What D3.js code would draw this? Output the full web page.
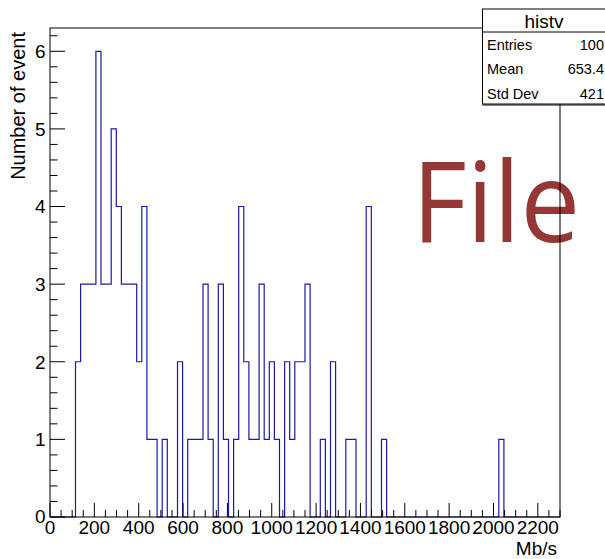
<!DOCTYPE html>
<html><head><meta charset="utf-8">
<script src="https://cdn.jsdelivr.net/npm/d3@7"></script>
<style>body{margin:0;background:#fff}svg{display:block}text{font-family:"Liberation Sans",Arial,sans-serif}</style>
</head><body>
<script>
// Histogram "histv": 100 bins from 0 to 2300 Mb/s
const histName = "histv";
const xRange = [0, 2300];
const nBins = 100;
const counts = [
 0,0,0,0,0,2,3,3,3,6, 3,3,5,4,3,3,3,2,4,1,
 1,0,1,0,0,2,0,1,1,1, 3,1,0,3,1,0,1,4,2,1,
 1,3,1,2,1,0,2,1,2,2, 3,0,0,1,0,2,0,0,1,1,
 0,0,4,0,0,1,0,0,0,0, 0,0,0,0,0,0,0,0,0,0,
 0,0,0,0,0,0,0,0,1,0, 0,0,0,0,0,0,0,0,0,0
];
const statLabels = ["Entries", "Mean", "Std Dev"];
const statValues = ["100", "653.4", "421"];
const xTicksMajor = [0,200,400,600,800,1000,1200,1400,1600,1800,2000,2200];
const yTicksMajor = [0,1,2,3,4,5,6];
const xTitle = "Mb/s", yTitle = "Number of event";
const watermark = "File";

const W = 605, H = 559;
const pL = 50, pR = 560, pT = 28, pB = 517;
const svg = d3.select("body").append("svg").attr("width", W).attr("height", H);

const x = d3.scaleLinear().domain(xRange).range([pL, pR]);
const y = d3.scaleLinear().domain([0, 6.3]).range([pB, pT]);

// watermark
svg.append("text").attr("x", 412).attr("y", 241.5)
  .attr("font-size", 111).attr("fill", "#953735")
  .style("font-family", "'Open Sans','Noto Sans',sans-serif")
  .attr("textLength", 168).attr("lengthAdjust", "spacingAndGlyphs")
  .text(watermark);

// histogram step outline
const bw = (xRange[1] - xRange[0]) / nBins;
const pts = [[x(xRange[0]), y(0)]];
counts.forEach((c, i) => {
  const x0 = xRange[0] + i * bw, x1 = x0 + bw;
  pts.push([x(x0), y(c)], [x(x1), y(c)]);
});
pts.push([x(xRange[1]), y(0)]);
svg.append("path").attr("d", d3.line()(pts))
  .attr("fill", "none").attr("stroke", "#1a1aa6").attr("stroke-width", 1.2);

// frame
svg.append("rect").attr("x", pL).attr("y", pT).attr("width", pR - pL).attr("height", pB - pT)
  .attr("fill", "none").attr("stroke", "#000").attr("stroke-width", 1);

// x ticks
const xMinor = d3.range(0, 2301, 50);
svg.append("g").selectAll("line").data(xMinor).join("line")
  .attr("x1", d => x(d)).attr("x2", d => x(d))
  .attr("y1", pB).attr("y2", d => pB - (d % 200 === 0 ? 14 : 7))
  .attr("stroke", "#000").attr("stroke-width", 1);
svg.append("g").selectAll("text").data(xTicksMajor).join("text")
  .attr("x", d => x(d)).attr("y", 533.5).attr("text-anchor", "middle")
  .attr("font-size", 19).text(d => d);

// y ticks
const yMinor = d3.range(0, 32).map(i => i * 0.2).filter(v => v <= 6.3);
svg.append("g").selectAll("line").data(yMinor).join("line")
  .attr("x1", pL).attr("x2", (d, i) => pL + (i % 5 === 0 ? 15 : 7.5))
  .attr("y1", d => y(d)).attr("y2", d => y(d))
  .attr("stroke", "#000").attr("stroke-width", 1);
svg.append("g").selectAll("text").data(yTicksMajor).join("text")
  .attr("x", 45.5).attr("y", d => y(d) + (d === 0 ? 6 : 6.8)).attr("text-anchor", "end")
  .attr("font-size", 19).text(d => d);

// titles
svg.append("text").attr("x", 557).attr("y", 555).attr("text-anchor", "end")
  .attr("font-size", 19).text(xTitle);
svg.append("text").attr("transform", "translate(25,32) rotate(-90)")
  .attr("text-anchor", "end").attr("font-size", 20).text(yTitle);

// stats box
const bx = 482.5, by = 9, bwid = 130, bh = 95, sep = 32;
svg.append("rect").attr("x", bx).attr("y", by).attr("width", bwid).attr("height", bh)
  .attr("fill", "#fff").attr("stroke", "#000").attr("stroke-width", 1);
svg.append("line").attr("x1", bx).attr("x2", bx + bwid).attr("y1", by + bh + 1).attr("y2", by + bh + 1)
  .attr("stroke", "#000").attr("stroke-width", 1);
svg.append("line").attr("x1", bx).attr("x2", bx + bwid).attr("y1", sep).attr("y2", sep)
  .attr("stroke", "#000").attr("stroke-width", 1);
svg.append("text").attr("x", 544).attr("y", 28).attr("text-anchor", "middle")
  .attr("font-size", 19).text(histName);
statLabels.forEach((l, i) => {
  const yy = 49.5 + i * 24.5;
  svg.append("text").attr("x", 487).attr("y", yy).attr("font-size", 14.5).text(l);
  svg.append("text").attr("x", 604).attr("y", yy).attr("text-anchor", "end").attr("font-size", 14.5).text(statValues[i]);
});
</script>
</body></html>
